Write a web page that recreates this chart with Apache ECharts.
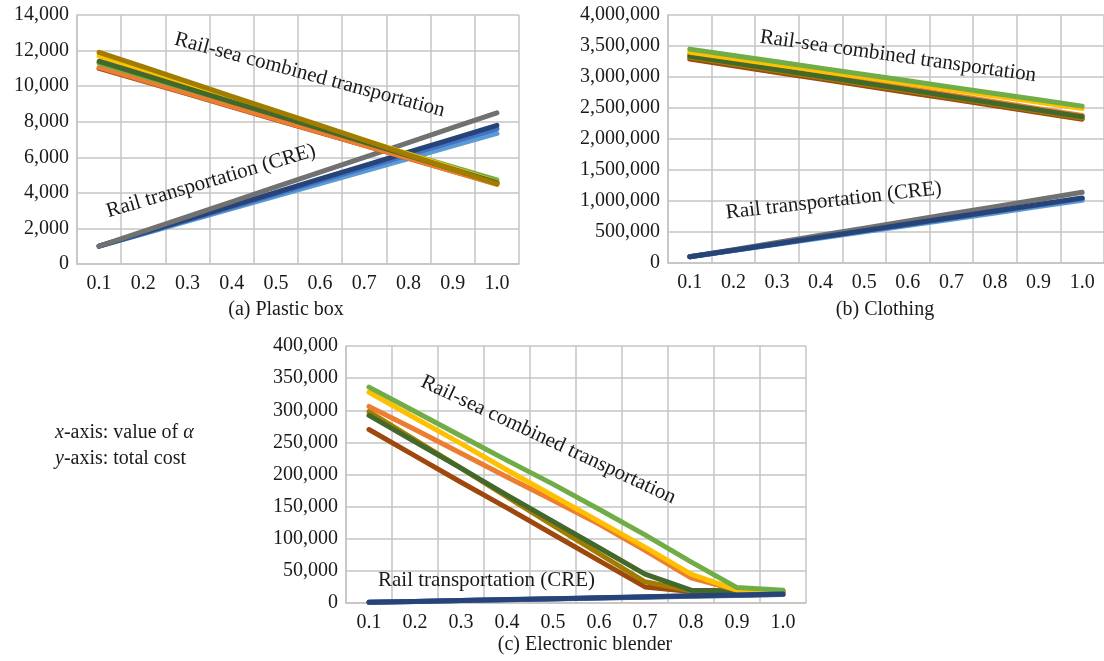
<!DOCTYPE html>
<html><head><meta charset="utf-8">
<script src="https://cdn.jsdelivr.net/npm/echarts@6/dist/echarts.min.js"></script>
<style>html,body{margin:0;background:#fff}#c{width:1104px;height:661px}</style>
</head><body><div id="c"></div>
<script>
// ---- data ----
const categories = ['0.1','0.2','0.3','0.4','0.5','0.6','0.7','0.8','0.9','1.0'];

// (a) Plastic box
const aRailGray      = [1000,1830,2670,3500,4330,5170,6000,6830,7670,8500];
const aRailBlue      = [1000,1730,2470,3200,3930,4670,5400,6130,6870,7600];
const aRailLightBlue = [1000,1700,2410,3110,3820,4520,5230,5930,6640,7340];
const aRailDarkBlue  = [1000,1760,2510,3270,4020,4780,5530,6290,7040,7800];
const aSeaBrown      = [11000,10280,9560,8830,8110,7390,6670,5940,5220,4500];
const aSeaOrange     = [11050,10320,9590,8860,8130,7400,6670,5940,5210,4480];
const aSeaGreen      = [11300,10570,9840,9110,8380,7650,6920,6190,5460,4730];
const aSeaYellow     = [11700,10910,10120,9330,8540,7760,6970,6180,5390,4600];
const aSeaDarkGreen  = [11400,10640,9880,9120,8370,7610,6850,6090,5330,4570];
const aSeaOlive      = [11900,11080,10250,9430,8610,7790,6970,6140,5320,4500];

// (b) Clothing
const bRailGray      = [100000,216000,331000,447000,562000,678000,793000,909000,1024000,1140000];
const bRailBlue      = [100000,204000,309000,413000,518000,622000,727000,831000,936000,1040000];
const bRailLightBlue = [100000,201000,302000,403000,504000,606000,707000,808000,909000,1010000];
const bRailDarkBlue  = [100000,206000,311000,417000,522000,628000,733000,839000,944000,1050000];
const bSeaBrown      = [3290000,3182000,3074000,2967000,2859000,2751000,2643000,2536000,2428000,2320000];
const bSeaOrange     = [3370000,3260000,3150000,3040000,2930000,2820000,2710000,2600000,2490000,2380000];
const bSeaOlive      = [3320000,3211000,3102000,2993000,2884000,2776000,2667000,2558000,2449000,2340000];
const bSeaDarkGreen  = [3340000,3231000,3122000,3013000,2904000,2796000,2687000,2578000,2469000,2360000];
const bSeaYellow     = [3400000,3299000,3198000,3097000,2996000,2894000,2793000,2692000,2591000,2490000];
const bSeaGreen      = [3450000,3348000,3246000,3143000,3041000,2939000,2837000,2734000,2632000,2530000];

// (c) Electronic blender
const cRailGray      = [1000,2300,3700,5000,6400,7700,9100,10400,11800,13200];
const cRailBlue      = [1000,2350,3800,5150,6600,7950,9400,10750,12200,13600];
const cRailDarkBlue  = [1000,2400,3900,5300,6800,8200,9700,11100,12600,14000];
const cSeaGreen      = [336000,298000,260000,222000,185000,146000,106000,64000,24000,20000];
const cSeaYellow     = [328000,288000,248000,207000,167000,127000,87000,45000,20000,18000];
const cSeaOrange     = [306000,270000,233000,196000,160000,123000,82000,39000,20000,18000];
const cSeaOlive      = [298000,254000,210000,165000,121000,77000,33000,19000,18000,18000];
const cSeaDarkGreen  = [292000,251000,210000,168000,127000,86000,45000,20000,19000,18000];
const cSeaBrown      = [270000,229000,188000,148000,107000,66000,25000,18000,17000,17000];

// tick settings
const aMax = 14000, aStep = 2000;
const bMax = 4000000, bStep = 500000;
const cMax = 400000, cStep = 50000;

// ---- style ----
const FONT = '"Liberation Serif","Times New Roman",serif';
const GRID = '#c4c4c4';
const TXT = '#1a1a1a';
const C = {
  gray:'#717171', blue:'#4472C4', lightBlue:'#5B9BD5', darkBlue:'#264478',
  brown:'#9E480E', orange:'#ED7D31', green:'#70AD47', yellow:'#FFC000',
  darkGreen:'#43682B', olive:'#A07D00'
};

function xa(gi){
  return {type:'category', gridIndex:gi, data:categories, boundaryGap:true,
    axisLine:{show:true, lineStyle:{color:GRID, width:1.5}},
    axisTick:{show:false},
    axisLabel:{interval:0, margin:10, fontSize:20, fontFamily:FONT, color:TXT},
    splitLine:{show:true, interval:0, lineStyle:{color:GRID, width:1.5}}};
}
function ya(gi, max, step){
  return {type:'value', gridIndex:gi, min:0, max:max, interval:step,
    axisLine:{show:true, lineStyle:{color:GRID, width:1.5}},
    axisTick:{show:false},
    axisLabel:{margin:8, fontSize:20, fontFamily:FONT, color:TXT,
      formatter:v=>Number(v).toLocaleString('en-US')},
    splitLine:{show:true, lineStyle:{color:GRID, width:1.5}}};
}
function s(gi, data, color, w){
  return {type:'line', xAxisIndex:gi, yAxisIndex:gi, data:data, symbol:'none',
    silent:true, animation:false,
    lineStyle:{color:color, width:w||5, cap:'round', join:'round'}};
}

const series = [
  // (a)
  s(0,aRailLightBlue,C.lightBlue), s(0,aRailBlue,C.blue), s(0,aRailDarkBlue,C.darkBlue), s(0,aRailGray,C.gray),
  s(0,aSeaBrown,C.brown), s(0,aSeaOrange,C.orange), s(0,aSeaGreen,C.green),
  s(0,aSeaYellow,C.yellow), s(0,aSeaDarkGreen,C.darkGreen), s(0,aSeaOlive,C.olive),
  // (b)
  s(1,bRailLightBlue,C.lightBlue), s(1,bRailBlue,C.blue), s(1,bRailGray,C.gray), s(1,bRailDarkBlue,C.darkBlue),
  s(1,bSeaBrown,C.brown), s(1,bSeaOrange,C.orange), s(1,bSeaOlive,C.olive),
  s(1,bSeaDarkGreen,C.darkGreen), s(1,bSeaYellow,C.yellow), s(1,bSeaGreen,C.green),
  // (c)
  s(2,cSeaBrown,C.brown), s(2,cSeaOlive,C.olive), s(2,cSeaDarkGreen,C.darkGreen),
  s(2,cSeaOrange,C.orange), s(2,cSeaYellow,C.yellow), s(2,cSeaGreen,C.green),
  s(2,cRailGray,C.gray), s(2,cRailBlue,C.blue), s(2,cRailDarkBlue,C.darkBlue)
];

function t(x, y, text, deg, size, align){
  return {type:'text', x:x, y:y, rotation:(deg||0)*Math.PI/180, silent:true, z:100,
    style:{text:text, font:(size||21)+'px '+FONT, fill:TXT,
      textAlign:align||'left', textVerticalAlign:'middle'}};
}

const graphic = [
  t(175, 39, 'Rail-sea combined transportation', -15),
  t(107, 212, 'Rail transportation (CRE)', 16.5),
  t(760, 37, 'Rail-sea combined transportation', -8),
  t(726, 213, 'Rail transportation (CRE)', 6.5),
  t(422, 381, 'Rail-sea combined transportation', -25),
  t(378, 580, 'Rail transportation (CRE)', 0),
  t(286, 310, '(a) Plastic box', 0, 20, 'center'),
  t(885, 310, '(b) Clothing', 0, 20, 'center'),
  t(585, 645, '(c) Electronic blender', 0, 20, 'center'),
  {type:'text', x:55, y:433, silent:true,
    style:{text:'{i|x}-axis: value of {i|α}', font:'20px '+FONT, fill:TXT, textVerticalAlign:'middle',
      rich:{i:{fontStyle:'italic', fontSize:20, fontFamily:FONT, fill:TXT}}}},
  {type:'text', x:55, y:459, silent:true,
    style:{text:'{i|y}-axis: total cost', font:'20px '+FONT, fill:TXT, textVerticalAlign:'middle',
      rich:{i:{fontStyle:'italic', fontSize:20, fontFamily:FONT, fill:TXT}}}}
];

const chart = echarts.init(document.getElementById('c'), null, {renderer:'canvas'});
chart.setOption({
  animation:false,
  backgroundColor:'#fff',
  grid:[
    {left:77, top:15, width:442, height:249},
    {left:668, top:15, width:440, height:248},
    {left:346, top:346, width:460, height:257}
  ],
  xAxis:[xa(0), xa(1), xa(2)],
  yAxis:[ya(0,aMax,aStep), ya(1,bMax,bStep), ya(2,cMax,cStep)],
  series:series,
  graphic:graphic
});
</script></body></html>
